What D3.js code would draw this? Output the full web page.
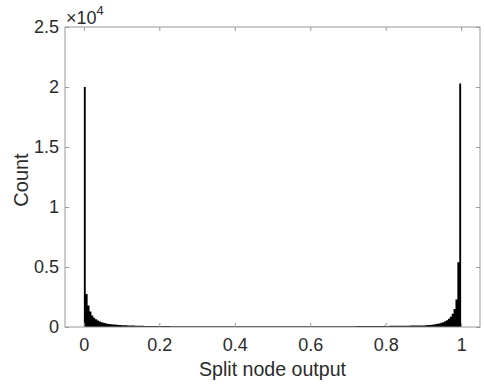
<!DOCTYPE html>
<html><head><meta charset="utf-8">
<script src="https://cdn.jsdelivr.net/npm/d3@7"></script>
<style>body{margin:0;background:#fff}svg{display:block}text{font-family:"Liberation Sans",Arial,sans-serif;fill:#2b2b2b}</style>
</head><body><svg id="c" width="484" height="388"></svg>
<script>
const binWidth = 0.005;
// counts per bin of width 0.005 from 0 to 1 (200 bins)
const counts = [
20000,2750,1800,1300,950,780,640,540,460,400,
350,310,280,255,235,215,200,188,176,165,
155,147,140,133,127,121,116,111,107,103,
99,96,93,90,88,86,84,82,80,79,
78,77,76,75,74,73,72,72,71,70,
70,69,69,68,68,67,67,66,66,66,
65,65,65,64,64,64,63,63,63,63,
62,62,62,62,61,61,61,61,60,60,
60,60,60,60,60,60,60,60,60,60,
60,60,60,60,60,60,60,60,60,60,
60,60,60,60,60,60,60,60,60,60,
60,60,61,61,61,61,62,62,62,62,
63,63,63,63,64,64,64,65,65,65,
66,66,67,67,68,68,69,70,70,71,
70,71,72,72,73,74,75,76,77,78,
79,80,81,82,84,86,88,90,92,94,
90,92,94,96,98,100,102,104,106,108,
110,112,114,116,119,122,125,128,131,133,
135,145,158,172,190,210,235,265,300,345,
400,470,560,680,850,1100,1500,2300,5400,20300
];
const xTicks = [0, 0.2, 0.4, 0.6, 0.8, 1];
const yTicks = [0, 0.5, 1, 1.5, 2, 2.5];
const yScaleFactor = 1e4;

const svg = d3.select("#c");
const L = 65, R = 480, T = 27, B = 327;
const x = d3.scaleLinear().domain([-0.05, 1.05]).range([L, R]);
const y = d3.scaleLinear().domain([0, 2.5]).range([B, T]);

// histogram drawn as one solid step area (one step per bin)
const steps = counts.map((c, i) => ({ x0: i * binWidth, v: c }));
steps.push({ x0: counts.length * binWidth, v: counts[counts.length - 1] });
const area = d3.area()
  .x(d => x(d.x0))
  .y0(B)
  .y1(d => y(d.v / yScaleFactor))
  .curve(d3.curveStepAfter);
svg.append("path").datum(steps).attr("d", area).attr("fill", "#000");

const axCol = "#999";
function styleAxis(g) {
  g.select(".domain").remove();
  g.selectAll(".tick line").attr("stroke", axCol);
  g.selectAll(".tick text").style("font-size", "18px").attr("fill", "#2b2b2b");
}
svg.append("g").attr("transform", `translate(0,${B})`)
  .call(d3.axisBottom(x).tickValues(xTicks).tickFormat(d3.format("~g")).tickSize(-4).tickPadding(11))
  .call(styleAxis);
svg.append("g").attr("transform", `translate(0,${T})`)
  .call(d3.axisTop(x).tickValues(xTicks).tickFormat("").tickSize(-4))
  .call(styleAxis);
svg.append("g").attr("transform", `translate(${L},0)`)
  .call(d3.axisLeft(y).tickValues(yTicks).tickFormat(d3.format("~g")).tickSize(-4).tickPadding(6))
  .call(styleAxis);
svg.append("g").attr("transform", `translate(${R},0)`)
  .call(d3.axisRight(y).tickValues(yTicks).tickFormat("").tickSize(-4))
  .call(styleAxis);

svg.append("rect").attr("x", L).attr("y", T).attr("width", R - L).attr("height", B - T)
  .attr("fill", "none").attr("stroke", axCol).attr("stroke-width", 1);

// exponent
const ex = svg.append("text").attr("x", 66).attr("y", 24);
ex.append("tspan").style("font-size", "18px").text("×10");
ex.append("tspan").attr("dy", -9).style("font-size", "13px").text("4");

svg.append("text").attr("x", (L + R) / 2).attr("y", 376).attr("text-anchor", "middle")
  .style("font-size", "19.6px").text("Split node output");
svg.append("text").attr("transform", `translate(28,180) rotate(-90)`)
  .attr("text-anchor", "middle").style("font-size", "20px").text("Count");
</script></body></html>
